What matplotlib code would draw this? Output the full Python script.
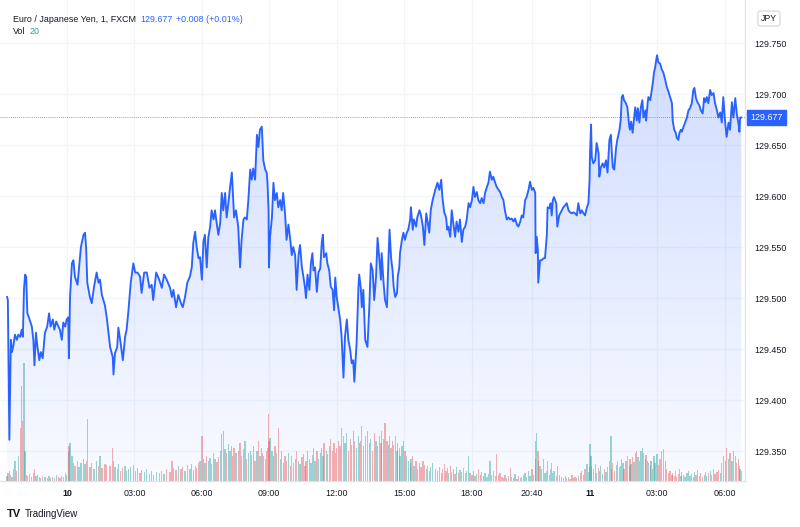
import numpy as np
import matplotlib.pyplot as plt
from matplotlib.patches import Polygon

plt.rcParams['font.family'] = ['Liberation Sans', 'DejaVu Sans']

# EUR/JPY 1-minute, FXCM. x = bar index in minutes from 00:00 on the 10th
# (the daily session break is compressed, as TradingView does)
bars = [
    -160, -158, -154, -150,
    -147, -143, -139, -134, -130, -125,
    -121, -118, -115, -112, -109,
    -106, -101, -94, -90, -87, -83, -79, -74, -70, -65, -59,
    -53, -48, -44, -38, -34, -29, -23, -19, -14, -10, -5, -1,
    3, 5, 8, 13, 17,
    21, 28, 32, 37, 44, 48, 51, 54,
    61, 66, 72, 79, 84, 88, 93, 101, 106,
    115, 122, 124, 128, 134, 137, 143, 149, 155, 159,
    164, 170, 177, 182, 188, 195, 199, 206, 213, 220, 226, 230, 238, 246,
    253, 259, 266, 275, 280, 284, 291, 297, 304, 309, 315, 321, 328, 333, 337, 342, 346, 351,
    355, 360, 364, 368, 373, 377, 382, 386, 391, 395, 400, 404, 409,
    413, 417, 422, 426, 431, 435, 440, 442, 446, 451, 457, 462,
    466, 471, 475, 480, 484, 489, 493, 497, 502, 507, 511, 515, 520, 522,
    524, 529, 533, 535, 538, 539, 542, 547, 551, 555, 560, 564, 569, 573, 577, 582,
    586, 591, 596, 600, 604, 609, 613, 618, 622, 627, 631, 635, 638, 642, 647, 651, 655, 658,
    662, 667, 671, 676, 680, 683, 686, 692, 695, 700, 704, 709, 713, 716, 720,
    724, 729, 733, 738, 742, 747, 751, 756, 760, 764, 767, 773, 778, 780,
    784, 787, 791, 796, 802, 807, 811, 816, 820, 825, 829, 834, 838, 840, 845, 849, 854, 858, 861, 865,
    869, 872, 876, 881, 883, 887, 889, 894, 898, 902, 907, 911,
    916, 918, 923, 926, 932, 935, 941, 945, 950, 954, 959, 963, 967, 971, 976, 983,
    989, 994, 999, 1002, 1007, 1012, 1015, 1018, 1023, 1027, 1031, 1036, 1040, 1045, 1049, 1054, 1058, 1063, 1067, 1072,
    1076, 1081, 1085, 1089, 1094, 1098, 1103, 1107, 1112, 1116, 1121, 1125, 1129, 1134, 1138, 1143, 1147, 1152, 1156,
    1161, 1165, 1169, 1174, 1178, 1183, 1187, 1192, 1196, 1201, 1205, 1210, 1214, 1218, 1223, 1227, 1232, 1236, 1241, 1245,
    1250, 1251, 1254, 1257, 1258, 1263, 1267, 1272, 1276, 1281, 1283, 1288, 1291, 1294, 1297, 1300, 1306, 1309, 1314,
    1321, 1325, 1330, 1334, 1339, 1343, 1348, 1352, 1356, 1361, 1365, 1370, 1374, 1379, 1383, 1388, 1392, 1395,
    1396, 1399, 1401, 1405, 1410, 1414, 1419, 1421, 1425, 1430, 1434, 1439, 1443, 1448, 1452, 1454, 1457, 1461, 1466, 1469, 1475,
    1478, 1481, 1484, 1487, 1492, 1496, 1501, 1503, 1506, 1510, 1514, 1517, 1521, 1524, 1528, 1532, 1536, 1539, 1544, 1546, 1550, 1552,
    1557, 1559, 1564, 1567, 1570, 1575, 1579, 1583, 1588, 1592, 1597, 1601, 1606, 1610, 1615,
    1617, 1621, 1625, 1628, 1632, 1635, 1639, 1641, 1646, 1650, 1655, 1659, 1663, 1668, 1672, 1675, 1679, 1683, 1688, 1692, 1697,
    1701, 1704, 1708, 1712, 1717, 1721, 1726, 1730, 1735, 1739, 1744,
    1748, 1752, 1757, 1761, 1766, 1770, 1775, 1779, 1784, 1788, 1793, 1795, 1797, 1800,
]

prices = [
    129.501, 129.498, 129.361, 129.459,
    129.447, 129.454, 129.464, 129.459, 129.464, 129.462,
    129.469, 129.462, 129.508, 129.523, 129.521,
    129.485, 129.480, 129.472, 129.459, 129.434, 129.466, 129.452, 129.439, 129.447, 129.441, 129.466,
    129.472, 129.485, 129.472, 129.479, 129.469, 129.477, 129.472, 129.469, 129.459, 129.476, 129.472, 129.479,
    129.481, 129.441, 129.501, 129.534, 129.537,
    129.521, 129.513, 129.530, 129.550, 129.562, 129.564, 129.549, 129.515,
    129.501, 129.495, 129.511, 129.525, 129.515, 129.518, 129.503, 129.493, 129.481,
    129.452, 129.442, 129.425, 129.446, 129.452, 129.471, 129.456, 129.439, 129.462, 129.469,
    129.488, 129.515, 129.534, 129.525, 129.525, 129.521, 129.505, 129.525, 129.525, 129.510, 129.513, 129.498, 129.525, 129.518,
    129.510, 129.523, 129.518, 129.510, 129.501, 129.508, 129.491, 129.503, 129.495, 129.491, 129.501, 129.515, 129.521, 129.530, 129.554, 129.565, 129.550, 129.539,
    129.540, 129.518, 129.555, 129.562, 129.530, 129.559, 129.570, 129.586, 129.577, 129.586, 129.572, 129.562, 129.574,
    129.603, 129.586, 129.603, 129.579, 129.594, 129.608, 129.623, 129.609, 129.579, 129.586, 129.570, 129.530,
    129.557, 129.577, 129.579, 129.577, 129.596, 129.626, 129.616, 129.627, 129.616, 129.660, 129.648, 129.665, 129.668, 129.652,
    129.635, 129.626, 129.623, 129.614, 129.586, 129.530, 129.560, 129.579, 129.613, 129.596, 129.603, 129.589, 129.596, 129.586, 129.603, 129.583,
    129.557, 129.572, 129.557, 129.542, 129.550, 129.542, 129.508, 129.542, 129.552, 129.530, 129.521, 129.511, 129.500, 129.523, 129.508, 129.534, 129.544, 129.527,
    129.530, 129.506, 129.525, 129.529, 129.554, 129.562, 129.540, 129.544, 129.534, 129.527, 129.511, 129.508, 129.488, 129.520, 129.501,
    129.491, 129.479, 129.462, 129.422, 129.462, 129.479, 129.459, 129.449, 129.436, 129.439, 129.418, 129.456, 129.511, 129.523,
    129.511, 129.491, 129.508, 129.459, 129.452, 129.491, 129.534, 129.527, 129.498, 129.521, 129.559, 129.537, 129.518, 129.544, 129.515, 129.498, 129.491, 129.537, 129.567, 129.540,
    129.527, 129.511, 129.501, 129.505, 129.521, 129.530, 129.544, 129.557, 129.564, 129.557, 129.564, 129.567,
    129.577, 129.589, 129.567, 129.577, 129.570, 129.579, 129.586, 129.581, 129.570, 129.552, 129.583, 129.574, 129.564, 129.586, 129.596, 129.606,
    129.613, 129.606, 129.616, 129.599, 129.584, 129.579, 129.567, 129.570, 129.560, 129.586, 129.574, 129.560, 129.575, 129.565, 129.577, 129.555, 129.567, 129.570, 129.577, 129.593,
    129.589, 129.596, 129.609, 129.599, 129.604, 129.596, 129.593, 129.598, 129.593, 129.603, 129.609, 129.613, 129.624, 129.616, 129.619, 129.613, 129.609, 129.606, 129.604,
    129.599, 129.596, 129.586, 129.577, 129.579, 129.577, 129.578, 129.575, 129.578, 129.572, 129.570, 129.575, 129.581, 129.579, 129.596, 129.599, 129.606, 129.614, 129.606, 129.608,
    129.603, 129.544, 129.560, 129.547, 129.515, 129.537, 129.537, 129.539, 129.539, 129.562, 129.589, 129.588, 129.593, 129.581, 129.596, 129.599, 129.593, 129.570, 129.581,
    129.586, 129.589, 129.591, 129.593, 129.586, 129.584, 129.583, 129.584, 129.583, 129.581, 129.593, 129.583, 129.586, 129.583, 129.581, 129.589, 129.593, 129.616,
    129.638, 129.670, 129.638, 129.632, 129.635, 129.652, 129.642, 129.619, 129.628, 129.632, 129.628, 129.635, 129.623, 129.655, 129.660, 129.645, 129.628, 129.626, 129.648, 129.655, 129.665,
    129.674, 129.697, 129.699, 129.694, 129.691, 129.687, 129.668, 129.665, 129.673, 129.662, 129.677, 129.687, 129.674, 129.686, 129.672, 129.687, 129.694, 129.677, 129.684, 129.674, 129.691, 129.697,
    129.694, 129.699, 129.711, 129.721, 129.726, 129.738, 129.731, 129.730, 129.724, 129.721, 129.714, 129.707, 129.702, 129.697, 129.691,
    129.674, 129.665, 129.662, 129.657, 129.655, 129.662, 129.665, 129.663, 129.668, 129.672, 129.677, 129.684, 129.686, 129.691, 129.704, 129.706, 129.696, 129.692, 129.689, 129.684, 129.681,
    129.696, 129.692, 129.697, 129.691, 129.704, 129.699, 129.701, 129.691, 129.684, 129.677, 129.682,
    129.672, 129.697, 129.672, 129.658, 129.672, 129.665, 129.692, 129.677, 129.696, 129.681, 129.670, 129.663, 129.677, 129.677,
]

volumes = [
    10, 16, 20, 12,
    8, 24, 40, 20, 50, 106,
    190, 120, 236, 60, 12,
    10, 14, 8, 16, 24, 10, 12, 8, 6, 10, 8,
    6, 10, 6, 8, 6, 12, 8, 6, 10, 8, 16, 12,
    60, 70, 76, 50, 36,
    30, 40, 28, 36, 44, 34, 40, 124,
    28, 36, 24, 40, 30, 50, 26, 34, 32,
    30, 66, 40, 28, 24, 34, 20, 26, 30, 20,
    24, 28, 32, 20, 26, 16, 22, 18, 24, 14, 20, 12, 18, 16,
    20, 14, 24, 18, 40, 26, 22, 30, 24, 28, 20, 32, 24, 34, 22, 30, 26, 36,
    40, 90, 44, 36, 50, 40, 46, 34, 56, 44, 38, 48, 60,
    94, 100, 64, 56, 74, 60, 70, 50, 66, 56, 60, 76,
    50, 64, 80, 44, 56, 60, 52, 70, 40, 60, 80, 50, 66, 56,
    50, 44, 60, 66, 134, 80, 86, 60, 50, 70, 56, 106, 44, 60, 36, 50,
    40, 56, 30, 50, 36, 44, 60, 40, 34, 48, 54, 30, 40, 60, 44, 36, 52, 66,
    40, 60, 44, 56, 66, 50, 76, 60, 54, 70, 84, 60, 76, 56, 66,
    80, 70, 106, 90, 76, 96, 60, 84, 72, 100, 80, 66, 90, 76,
    80, 110, 70, 90, 100, 76, 84, 60, 96, 80, 70, 90, 76, 100, 84, 116, 80, 72, 90, 66,
    80, 72, 90, 60, 76, 66, 50, 70, 80, 60, 50, 40,
    36, 44, 50, 30, 40, 24, 36, 28, 40, 32, 24, 30, 20, 28, 36, 24,
    20, 28, 16, 24, 34, 20, 26, 16, 30, 18, 24, 14, 28, 16, 22, 18, 26, 16, 20, 50,
    16, 12, 20, 10, 14, 24, 12, 18, 10, 16, 8, 14, 40, 12, 20, 10, 54, 12, 16,
    8, 6, 12, 6, 10, 26, 8, 6, 14, 4, 10, 6, 8, 12, 16, 8, 20, 10, 24, 12,
    44, 80, 96, 60, 40, 30, 24, 44, 16, 20, 40, 12, 24, 36, 16, 20, 10, 30, 12,
    8, 6, 10, 6, 8, 4, 12, 6, 8, 6, 10, 16, 20, 12, 24, 34, 18, 28,
    74, 50, 30, 24, 34, 16, 26, 20, 30, 14, 24, 18, 28, 40, 90, 24, 36, 20, 32, 40, 28,
    30, 44, 36, 24, 40, 50, 30, 44, 34, 48, 38, 56, 60, 48, 40, 60, 66, 56, 44, 52, 40, 36,
    30, 40, 24, 50, 36, 54, 32, 44, 60, 64, 40, 24, 16, 20, 12,
    16, 10, 20, 8, 14, 24, 10, 18, 12, 8, 16, 20, 10, 14, 8, 18, 12, 22, 10, 16, 8,
    12, 18, 10, 16, 20, 12, 24, 14, 18, 22, 16,
    36, 50, 40, 66, 44, 56, 40, 60, 50, 36, 44, 30, 24, 20,
]

assert len(bars) == len(prices) == len(volumes), (len(bars), len(prices), len(volumes))

price_ticks = [129.350, 129.400, 129.450, 129.500, 129.550, 129.600, 129.650, 129.700, 129.750]
time_ticks = [0, 180, 360, 540, 720, 900, 1080, 1240, 1396, 1576, 1756]
time_labels = ['10', '03:00', '06:00', '09:00', '12:00', '15:00', '18:00', '20:40', '11', '03:00', '06:00']
day_labels = ['10', '11']

symbol = 'Euro / Japanese Yen, 1, FXCM'
last_price = 129.677
change = '+0.008 (+0.01%)'
last_vol = 20

BLUE = '#2962ff'
UP = '#26a69a'
DOWN = '#ef5350'
TXT = '#131722'
GRID = '#f3f5f9'
BORDER = '#e0e3eb'
FS = 6.4

W, H = 800, 527
fig = plt.figure(figsize=(W / 100, H / 100), dpi=100)
ax_v = fig.add_axes([0, 46 / H, 745 / W, 481 / H])
ax = ax_v.twinx()

ymin, ymax = 129.3206, 129.7922
xmin, xmax = -179, 1810
vmax = 962

# volume (bottom layer)
vol_colors = [UP if i == 0 or prices[i] >= prices[i - 1] else DOWN for i in range(len(prices))]
ax_v.bar(bars, volumes, width=3.4, color=vol_colors, alpha=0.45, linewidth=0, zorder=2)
ax_v.set_ylim(0, vmax)
ax_v.set_yticks([])

# area gradient under the price line
verts = [(bars[0], ymin)] + list(zip(bars, prices)) + [(bars[-1], ymin)]
poly = Polygon(verts, closed=True, facecolor='none', edgecolor='none')
ax.add_patch(poly)
grad = np.zeros((256, 1, 4))
grad[..., :3] = [41 / 255, 98 / 255, 255 / 255]
grad[:, 0, 3] = np.linspace(0.24, 0.03, 256)
im = ax.imshow(grad, extent=[xmin, xmax, ymin, ymax], aspect='auto', origin='upper', zorder=1)
im.set_clip_path(poly)

ax.plot(bars, prices, color=BLUE, lw=1.35, zorder=3, solid_joinstyle='round')
ax.axhline(last_price, color=BLUE, lw=0.6, ls=(0, (1, 1.5)), alpha=0.8, zorder=4)

ax.set_xlim(xmin, xmax)
ax.set_ylim(ymin, ymax)
ax_v.set_xlim(xmin, xmax)

# grid
for t in time_ticks:
    ax_v.axvline(t, color=GRID, lw=1, zorder=0)
for p in price_ticks:
    ax_v.axhline((p - ymin) / (ymax - ymin) * vmax, color=GRID, lw=1, zorder=0)

# axes / ticks
ax.set_yticks(price_ticks)
ax.set_yticklabels([f'{p:.3f}' for p in price_ticks])
ax.tick_params(axis='y', length=0, pad=7, labelsize=FS, colors=TXT)
ax_v.set_xticks(time_ticks)
ax_v.set_xticklabels(time_labels)
ax_v.tick_params(axis='x', length=0, pad=6, labelsize=FS, colors=TXT)
for lbl in ax_v.get_xticklabels():
    if lbl.get_text() in day_labels:
        lbl.set_fontweight('bold')

for a in (ax, ax_v):
    a.spines['top'].set_visible(False)
    a.spines['left'].set_visible(False)
    a.spines['right'].set_color(BORDER)
    a.spines['bottom'].set_color(BORDER)

# last price tag
ax.text(1.007, last_price, f'{last_price:.3f}', transform=ax.get_yaxis_transform(),
        ha='left', va='center', fontsize=FS, color='white',
        bbox=dict(boxstyle='square,pad=0.35', fc=BLUE, ec=BLUE), zorder=5, clip_on=False)


def chain(parts, x, y):
    # put text pieces one after another, 4 px apart
    r = fig.canvas.get_renderer()
    for txt, col in parts:
        t = fig.text(x / W, 1 - y / H, txt, fontsize=FS, color=col, va='center')
        x = t.get_window_extent(r).x1 + 4


chain([(symbol, TXT), (f'{last_price:.3f}', BLUE), (change, BLUE)], 13, 19)
chain([('Vol', TXT), (str(last_vol), UP)], 13, 32)

fig.text(769 / W, 1 - 18.5 / H, 'JPY', fontsize=6.2, color=TXT, ha='center', va='center',
         bbox=dict(boxstyle='round,pad=0.35,rounding_size=0.3', fc='white', ec='#d1d4dc', lw=0.8))

# watermark
fig.text(7 / W, 1 - 514 / H, 'TV', fontsize=8, fontweight='heavy', color=TXT, va='center')
fig.text(25 / W, 1 - 514 / H, 'TradingView', fontsize=7, color=TXT, va='center')

fig.savefig('out.png', dpi=100)
